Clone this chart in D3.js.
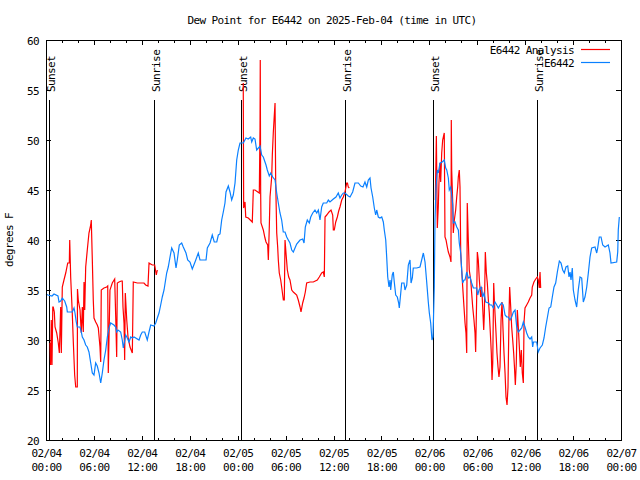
<!DOCTYPE html>
<html><head><meta charset="utf-8">
<script src="https://cdn.jsdelivr.net/npm/d3@7"></script>
<style>
body{margin:0;background:#fff;}
svg text{font-family:"DejaVu Sans Mono",monospace;font-size:11px;letter-spacing:-0.6px;fill:#000;}
</style></head><body>
<svg id="chart" width="640" height="480"></svg>
<script>
// ---------- data (hours after 2025-02-04 00:00 UTC, degrees F) ----------
const titleText = "Dew Point for E6442 on 2025-Feb-04 (time in UTC)";
const yLabel = "degrees F";
const yTicks = [20, 25, 30, 35, 40, 45, 50, 55, 60];
const seriesNames = ["E6442 Analysis", "E6442"];
const seriesColors = ["#ff0000", "#0a80ff"];
const sunEvents = [
  ["Sunset", 0.41], ["Sunrise", 13.56], ["Sunset", 24.45],
  ["Sunrise", 37.48], ["Sunset", 48.5], ["Sunrise", 61.52]
];

const analysisDay1 = [
 [0.50,29.7],[0.58,27.5],[0.66,32.0],[0.75,27.5],[0.85,33.3],[0.91,33.3],[1.04,32.8],[1.13,31.3],[1.34,30.7],
 [1.54,29.7],[1.67,28.7],[1.84,33.3],[1.92,28.7],[2.04,35.3],[2.25,36.0],[2.47,36.7],[2.72,37.7],[2.92,37.7],
 [2.97,40.0],[3.09,36.3],[3.29,32.7],[3.42,29.8],[3.59,26.5],[3.72,25.3],[3.92,25.3],[3.94,35.1],[4.04,34.0],
 [4.26,33.0],[4.42,30.7],[4.55,33.3],[4.67,30.8],[4.76,35.8],[4.85,33.0],[4.97,37.3],[5.17,39.0],[5.38,40.7],
 [5.60,41.5],[5.67,42.0],[5.80,38.0],[5.92,34.0],[6.01,32.2],[6.22,31.8],[6.42,31.5],[6.55,31.2],[6.76,29.3],
 [6.85,27.8],[6.92,35.0],[7.26,35.2],[7.60,35.3],[7.73,35.4],[7.80,26.7],[7.91,31.0],[8.01,35.0],[8.30,35.7],
 [8.60,36.1],[8.73,32.3],[8.85,28.3],[8.93,35.7],[9.14,35.8],[9.43,35.9],[9.55,35.9],[9.64,33.3],[9.77,31.7],
 [9.85,28.0],[9.93,34.7],[10.11,32.0],[10.27,30.3],[10.52,29.3],[10.81,28.7],[10.93,35.8],[11.43,35.7],
 [11.86,35.7],[12.27,35.7],[12.48,35.5],[12.77,35.4],[12.90,37.7],[13.31,37.5],[13.61,37.5],[13.81,36.5],[13.94,37.0]
];
const analysisDay2 = [
 [24.70,55.7],[24.75,43.2],[24.92,43.8],[25.01,42.3],[25.33,42.2],[25.83,41.8],[25.96,45.0],[26.17,45.0],
 [26.71,44.7],[26.80,51.3],[26.83,58.0],[26.88,44.7],[26.92,41.7],[27.21,41.0],[27.42,40.2],[27.55,39.8],
 [27.76,39.5],[27.84,38.0],[27.96,41.3],[28.05,44.3],[28.26,46.3],[28.34,48.5],[28.46,50.7],[28.59,52.5],
 [28.68,53.7],[28.76,46.0],[28.89,40.7],[29.01,39.3],[29.09,38.0],[29.21,36.7],[29.39,36.0],[29.51,35.3],
 [29.72,34.0],[29.84,34.0],[29.93,40.0],[30.05,38.7],[30.22,37.0],[30.39,36.3],[30.55,36.0],[30.77,35.0],
 [30.97,34.8],[31.39,34.5],[31.59,34.0],[31.81,33.3],[31.93,32.8],[32.14,33.7],[32.31,34.2],[32.47,34.8],
 [32.64,35.7],[33.06,35.8],[33.47,35.8],[33.97,36.0],[34.22,36.3],[34.52,36.7],[34.72,36.8],[34.85,36.3],
 [34.94,42.3],[35.15,42.5],[35.44,42.8],[35.69,43.0],[35.90,42.5],[35.98,41.0],[36.10,41.0],[36.28,41.8],
 [36.48,42.3],[36.65,42.9],[36.81,43.3],[37.03,44.0],[37.23,44.3],[37.44,44.8],[37.65,45.7],[37.75,45.7],
 [37.85,45.3],[37.98,45.2]
];
const analysisDay3 = [
 [48.75,44.0],[48.88,50.4],[49.00,41.2],[49.12,43.3],[49.21,45.8],[49.34,47.7],[49.42,45.8],[49.55,48.7],
 [49.67,50.0],[49.87,50.7],[49.96,40.3],[50.09,40.0],[50.25,39.3],[50.38,38.8],[50.59,38.3],[50.71,37.8],
 [50.75,52.0],[50.80,47.0],[50.93,43.7],[51.00,40.7],[51.13,42.0],[51.30,43.0],[51.43,44.3],[51.55,45.3],
 [51.63,46.3],[51.75,47.0],[51.84,45.3],[51.93,38.7],[52.05,37.0],[52.18,35.3],[52.34,33.3],[52.47,31.7],
 [52.59,30.7],[52.68,28.7],[52.75,43.7],[52.88,40.0],[53.00,37.0],[53.18,36.0],[53.30,34.7],[53.43,33.3],
 [53.59,32.0],[53.72,30.7],[53.80,28.8],[53.93,34.3],[54.01,38.8],[54.13,38.0],[54.26,36.0],[54.43,34.3],
 [54.56,35.3],[54.68,33.3],[54.81,31.0],[54.89,32.7],[55.01,38.8],[55.14,36.7],[55.26,35.7],[55.39,34.0],
 [55.51,32.7],[55.64,30.7],[55.76,28.7],[55.85,26.0],[55.94,27.7],[56.06,35.7],[56.14,34.0],[56.22,32.7],
 [56.35,30.7],[56.47,28.7],[56.60,27.3],[56.72,26.3],[56.85,27.3],[56.98,32.0],[57.10,33.8],[57.23,31.0],
 [57.35,28.7],[57.48,26.7],[57.60,24.3],[57.73,23.5],[57.85,25.3],[57.98,32.7],[58.06,35.3],[58.19,33.3],
 [58.31,31.3],[58.44,30.0],[58.56,28.7],[58.66,27.3],[58.77,25.5],[58.89,27.7],[59.02,33.0],[59.14,31.3],
 [59.27,29.3],[59.39,27.3],[59.52,29.0],[59.64,26.7],[59.77,25.7],[59.86,31.8],[59.98,33.2],[60.19,33.5],
 [60.39,33.8],[60.61,34.2],[60.82,34.5],[60.89,35.3],[61.10,35.8],[61.32,36.1],[61.52,36.3],[61.64,36.0],
 [61.77,35.2],[61.86,36.8],[61.94,35.2]
];
const observed = [
 [0.00,34.6],[0.25,34.5],[0.75,34.4],[1.00,34.6],[1.50,34.4],[1.63,33.8],[1.84,33.9],[2.04,34.2],[2.34,33.9],
 [2.59,33.3],[2.67,32.8],[3.29,32.8],[3.51,33.2],[3.63,32.7],[3.79,31.8],[3.92,31.3],[4.26,31.3],[4.42,30.8],
 [4.55,30.3],[4.76,30.0],[4.97,29.5],[5.17,29.3],[5.38,28.8],[5.60,27.7],[5.80,26.7],[6.01,26.5],[6.22,27.7],
 [6.42,27.4],[6.64,26.7],[6.85,25.7],[7.05,26.7],[7.26,28.0],[7.48,29.0],[7.68,30.3],[7.89,31.2],[8.10,31.7],
 [8.51,31.5],[8.73,31.3],[8.85,30.8],[9.02,31.0],[9.35,30.8],[9.55,30.0],[9.68,29.2],[9.98,30.5],[10.18,30.2],
 [10.39,29.8],[10.61,30.3],[10.81,30.2],[11.02,30.3],[11.65,30.0],[11.86,30.5],[12.06,30.8],[12.36,30.8],
 [12.68,30.0],[12.90,30.8],[13.11,31.5],[13.52,31.4],[13.74,31.7],[13.94,32.2],[14.15,32.7],[14.36,33.5],
 [14.56,34.3],[14.78,35.0],[15.11,36.7],[15.31,37.3],[15.53,38.3],[15.74,39.2],[16.03,38.7],[16.28,37.2],
 [16.44,38.0],[16.69,39.5],[16.99,39.7],[17.19,39.3],[17.53,38.7],[17.74,38.0],[18.03,37.8],[18.32,37.1],
 [18.66,37.8],[19.07,38.7],[19.28,38.0],[20.04,38.0],[20.20,39.2],[20.54,39.7],[20.82,40.5],[21.07,39.8],
 [21.38,39.8],[21.58,40.5],[21.79,40.6],[22.00,42.0],[22.20,42.8],[22.41,43.7],[22.54,44.8],[22.83,45.4],
 [23.04,44.8],[23.25,44.0],[23.45,44.5],[23.67,45.7],[23.88,48.0],[24.08,49.0],[24.29,49.7],[24.71,49.7],
 [25.04,50.2],[25.33,50.1],[25.63,50.3],[25.76,49.8],[25.96,50.2],[26.17,50.1],[26.38,49.0],[26.80,49.4],
 [27.01,48.5],[27.21,48.3],[27.55,47.5],[27.71,47.0],[27.96,46.4],[28.14,46.7],[28.39,46.3],[28.68,46.0],
 [28.89,44.7],[29.09,43.7],[29.30,42.7],[29.51,42.0],[29.71,40.8],[29.93,40.8],[30.14,40.3],[30.34,40.0],
 [30.55,39.7],[30.77,39.0],[30.97,38.8],[31.18,39.2],[31.39,39.6],[31.81,40.0],[32.14,40.1],[32.31,39.7],
 [32.47,41.3],[32.72,42.0],[32.97,41.7],[33.15,42.3],[33.40,42.7],[33.68,43.0],[33.90,42.7],[34.10,43.0],
 [34.31,42.0],[34.52,43.3],[34.72,43.7],[35.15,43.7],[35.35,44.0],[35.56,43.8],[35.98,44.1],[36.31,44.3],
 [36.60,44.7],[36.81,44.2],[37.03,44.5],[37.23,44.7],[37.44,44.7],[37.85,44.4],[38.07,44.3],[38.40,44.8],
 [38.69,45.7],[39.11,45.7],[39.41,45.4],[39.69,45.3],[39.94,45.8],[40.16,45.3],[40.36,46.0],[40.57,46.2],
 [40.70,45.2],[40.91,44.3],[41.11,43.2],[41.28,42.5],[41.41,43.0],[41.61,42.3],[41.82,42.2],[42.04,42.3],
 [42.24,41.8],[42.36,41.0],[42.54,40.0],[42.66,38.3],[42.79,36.3],[42.95,35.3],[43.08,36.0],[43.16,35.0],
 [43.36,36.5],[43.49,36.8],[43.61,35.8],[43.79,34.5],[43.99,34.3],[44.16,33.7],[44.24,33.2],[44.42,34.7],
 [44.54,35.7],[44.83,35.7],[44.95,35.0],[45.17,35.5],[45.37,37.5],[45.58,38.0],[45.71,35.7],[45.87,36.2],
 [45.99,37.2],[46.42,37.2],[46.83,37.3],[47.04,38.0],[47.25,38.7],[47.46,37.8],[47.67,35.8],[47.87,33.8],
 [48.00,32.7],[48.17,31.7],[48.33,30.0],[48.46,30.3],[48.62,35.3],[48.71,42.0],[48.84,45.3],[49.00,47.0],
 [49.12,46.7],[49.34,47.7],[49.62,47.8],[49.87,48.0],[50.05,47.2],[50.18,47.0],[50.38,46.2],[50.50,45.0],
 [50.68,45.3],[50.80,44.5],[50.93,43.5],[51.00,41.7],[51.21,41.8],[51.43,41.3],[51.63,41.0],[51.75,39.7],
 [51.93,38.7],[52.05,37.0],[52.18,35.7],[52.34,36.0],[52.47,36.0],[52.68,36.8],[52.88,36.2],[53.09,36.3],
 [53.30,35.7],[53.51,35.2],[53.93,35.2],[54.06,34.5],[54.22,35.0],[54.47,35.3],[54.68,34.3],[54.85,34.7],
 [55.06,33.8],[55.39,33.7],[55.60,33.5],[55.81,33.5],[56.01,33.2],[56.22,33.8],[56.44,33.5],[56.64,33.2],
 [56.85,33.5],[57.06,33.7],[57.26,33.5],[57.48,32.5],[57.69,32.3],[57.89,32.3],[58.10,32.0],[58.31,32.3],
 [58.52,32.8],[58.73,33.0],[58.94,31.3],[59.14,30.8],[59.35,31.0],[59.57,31.2],[59.77,31.8],[59.98,31.3],
 [60.19,30.7],[60.39,30.3],[60.61,30.1],[60.82,30.3],[60.94,29.3],[61.04,29.8],[61.44,29.8],[61.64,28.8],
 [61.86,29.2],[62.15,29.5],[62.36,30.2],[62.57,31.3],[62.77,32.2],[62.99,33.2],[63.20,33.3],[63.40,34.3],
 [63.61,35.3],[63.82,35.7],[64.03,36.8],[64.28,37.9],[64.49,37.7],[64.70,37.0],[64.90,36.7],[65.11,37.3],
 [65.33,37.4],[65.49,36.3],[65.62,36.8],[65.74,36.0],[65.90,37.2],[66.03,35.0],[66.24,34.0],[66.45,33.3],
 [66.65,35.0],[66.87,36.3],[67.08,36.2],[67.28,33.8],[67.49,34.3],[67.71,35.3],[67.91,36.7],[68.12,38.3],
 [68.33,39.2],[68.75,39.3],[68.96,38.7],[69.08,39.2],[69.28,40.3],[69.50,40.3],[69.71,39.5],[70.00,39.3],
 [70.41,39.5],[70.62,38.7],[70.75,37.7],[71.46,37.8],[71.59,38.8],[71.66,41.0],[71.79,42.3]
];

// ---------- chart ----------
const svg = d3.select("#chart");
const L = 46, R = 621, T = 40, B = 440;
const t0 = Date.UTC(2025, 1, 4);
const toDate = h => new Date(t0 + h * 3600e3);
const x = d3.scaleUtc().domain([toDate(0), toDate(72)]).range([L, R]);
const y = d3.scaleLinear().domain([20, 60]).range([B, T]);

// title
svg.append("text").attr("x", 332).attr("y", 24).attr("text-anchor", "middle").text(titleText);
// y label
svg.append("text").attr("transform", "translate(13,240) rotate(-90)")
  .attr("text-anchor", "middle").text(yLabel);

function styleAxis(g) {
  g.select(".domain").remove();
  g.selectAll(".tick line").attr("stroke", "#000").attr("shape-rendering", "crispEdges");
  g.attr("font-family", null).attr("font-size", null);
}

// minor x ticks (every 2 h) bottom & top
svg.append("g").attr("transform", `translate(0,${B})`)
  .call(d3.axisBottom(x).ticks(d3.utcHour.every(2)).tickSize(-2.5).tickFormat(""))
  .call(styleAxis);
svg.append("g").attr("transform", `translate(0,${T})`)
  .call(d3.axisTop(x).ticks(d3.utcHour.every(2)).tickSize(-2.5).tickFormat(""))
  .call(styleAxis);
// major x ticks
const fmtD = d3.utcFormat("%m/%d"), fmtT = d3.utcFormat("%H:%M");
const xb = svg.append("g").attr("transform", `translate(0,${B})`)
  .call(d3.axisBottom(x).ticks(d3.utcHour.every(6)).tickSize(-4.5).tickFormat(""))
  .call(styleAxis);
xb.selectAll(".tick text").remove();
xb.selectAll(".tick").each(function(d) {
  const t = d3.select(this).append("text").attr("text-anchor", "middle");
  t.append("tspan").attr("x", 0).attr("y", 17).text(fmtD(d));
  t.append("tspan").attr("x", 0).attr("y", 30.5).text(fmtT(d));
});
svg.append("g").attr("transform", `translate(0,${T})`)
  .call(d3.axisTop(x).ticks(d3.utcHour.every(6)).tickSize(-4.5).tickFormat(""))
  .call(styleAxis);
// y ticks
const yl = svg.append("g").attr("transform", `translate(${L},0)`)
  .call(d3.axisLeft(y).tickValues(yTicks).tickSize(-5).tickPadding(7).tickFormat(d3.format("d")))
  .call(styleAxis);
yl.selectAll(".tick text").attr("dy", null).attr("y", 4).attr("fill", "#000");
svg.append("g").attr("transform", `translate(${R},0)`)
  .call(d3.axisRight(y).tickValues(yTicks).tickSize(-5).tickFormat(""))
  .call(styleAxis);

// sunrise / sunset markers
sunEvents.forEach(([lab, h]) => {
  const px = Math.round(x(toDate(h))) + 0.5;
  svg.append("line").attr("x1", px).attr("x2", px).attr("y1", y(54)).attr("y2", y(20))
    .attr("stroke", "#000").attr("stroke-width", 1);
  svg.append("text").attr("transform", `translate(${px + 5.5},92) rotate(-90)`)
    .attr("text-anchor", "start").text(lab);
});

// data lines
const line = d3.line().x(d => x(toDate(d[0]))).y(d => y(d[1]));
[analysisDay1, analysisDay2, analysisDay3].forEach(s => {
  svg.append("path").datum(s).attr("d", line).attr("fill", "none")
    .attr("stroke", seriesColors[0]).attr("stroke-width", 1.2);
});
svg.append("path").datum(observed).attr("d", line).attr("fill", "none")
  .attr("stroke", seriesColors[1]).attr("stroke-width", 1.2);

// border
svg.append("rect").attr("x", L + 0.5).attr("y", T + 0.5).attr("width", R - L).attr("height", B - T)
  .attr("fill", "none").attr("stroke", "#000").attr("shape-rendering", "crispEdges");

// legend
seriesNames.forEach((n, i) => {
  const ly = 49.5 + i * 13;
  svg.append("text").attr("x", 574).attr("y", ly + 4).attr("text-anchor", "end").text(n);
  svg.append("line").attr("x1", 581).attr("x2", 610).attr("y1", ly).attr("y2", ly)
    .attr("stroke", seriesColors[i]).attr("stroke-width", 1.2);
});
</script>
</body></html>
